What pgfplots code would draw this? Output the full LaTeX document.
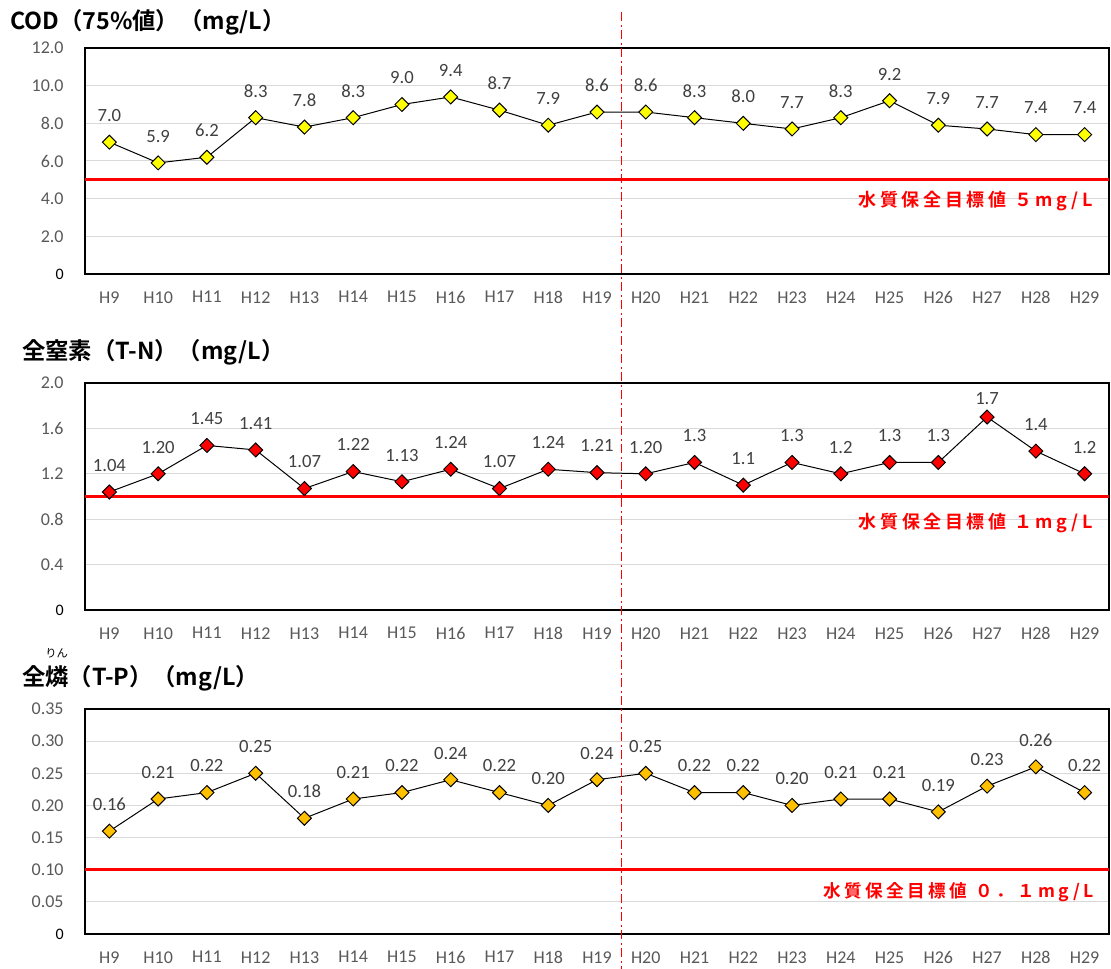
\documentclass[border=0pt]{standalone}
\usepackage{pgfplots}
\pgfplotsset{compat=1.18}
\usepackage{pgfplotstable}
\usetikzlibrary{calc}
\usepackage{fontspec}
\setmainfont{Carlito}
\newfontfamily\cjk{Noto Sans CJK JP}[BoldFont={Noto Sans CJK JP Bold}]
\newfontfamily\cjkred{Noto Sans CJK JP Bold}[LetterSpace=20]
\definecolor{tickgray}{HTML}{595959}
\definecolor{labgray}{HTML}{404040}
\definecolor{gridgray}{HTML}{D9D9D9}
\definecolor{ptyellow}{HTML}{FFFF00}
\definecolor{ptred}{HTML}{FF0000}
\definecolor{ptgold}{HTML}{FFC000}

\pgfplotstableread{
x y lab dy
0 7.0 7.0 0
1 5.9 5.9 0
2 6.2 6.2 0
3 8.3 8.3 0
4 7.8 7.8 0
5 8.3 8.3 0
6 9.0 9.0 0
7 9.4 9.4 0
8 8.7 8.7 0
9 7.9 7.9 0
10 8.6 8.6 0
11 8.6 8.6 0
12 8.3 8.3 0
13 8.0 8.0 0
14 7.7 7.7 0
15 8.3 8.3 0
16 9.2 9.2 0
17 7.9 7.9 0
18 7.7 7.7 0
19 7.4 7.4 0
20 7.4 7.4 0
}\codtab

\pgfplotstableread{
x y lab dy
0 1.04 1.04 0
1 1.20 1.20 0
2 1.45 1.45 0
3 1.41 1.41 0
4 1.07 1.07 0
5 1.22 1.22 0
6 1.13 1.13 0
7 1.24 1.24 0
8 1.07 1.07 0
9 1.24 1.24 0
10 1.21 1.21 0
11 1.20 1.20 0
12 1.3 1.3 0
13 1.1 1.1 0
14 1.3 1.3 0
15 1.2 1.2 0
16 1.3 1.3 0
17 1.3 1.3 0
18 1.7 1.7 -6
19 1.4 1.4 0
20 1.2 1.2 0
}\tntab

\pgfplotstableread{
x y lab dy
0 0.16 0.16 0
1 0.21 0.21 0
2 0.22 0.22 0
3 0.25 0.25 0
4 0.18 0.18 0
5 0.21 0.21 0
6 0.22 0.22 0
7 0.24 0.24 0
8 0.22 0.22 0
9 0.20 0.20 0
10 0.24 0.24 0
11 0.25 0.25 0
12 0.22 0.22 0
13 0.22 0.22 0
14 0.20 0.20 0
15 0.21 0.21 0
16 0.21 0.21 0
17 0.19 0.19 0
18 0.23 0.23 0
19 0.26 0.26 0
20 0.22 0.22 0
}\tptab

\pgfplotsset{
  panel/.style={
    scale only axis,
    width=768pt,
    xmin=-0.5, xmax=20.5,
    xtick={0,...,20},
    xticklabels={H9,H10,H11,H12,H13,H14,H15,H16,H17,H18,H19,H20,H21,H22,H23,H24,H25,H26,H27,H28,H29},
    major tick length=0pt,
    ymajorgrids,
    grid style={gridgray, line width=0.75pt},
    axis line style={black, line width=1.1pt},
    tick label style={font=\fontsize{13.5}{15}\selectfont, text=tickgray},
    xticklabel style={yshift=-9.5pt},
    yticklabel style={xshift=-12.5pt},
    clip=false,
  },
  series/.style={
    black, line width=0.75pt,
    mark=square*, mark size=3.7pt,
    mark options={rotate=45, fill=#1, draw=black, line width=0.75pt},
    point meta=explicit symbolic,
    visualization depends on={\thisrow{dy} \as \dy},
    nodes near coords,
    every node near coord/.append style={anchor=center, yshift=20pt+\dy pt, font=\fontsize{14}{16}\selectfont, text=labgray},
  },
}

\begin{document}
\begin{tikzpicture}
\useasboundingbox (0,0) rectangle (833.25pt,-726.75pt);

% Panel 1
\begin{axis}[panel, at={(63.75pt,-205.5pt)}, anchor=south west, height=169.5pt,
  ymin=0, ymax=12, ytick={0,2,...,12},
  yticklabels={{\textcolor{black}{\fontsize{12}{14}\selectfont 0}},2.0,4.0,6.0,8.0,10.0,12.0}]
\addplot[red, line width=2.25pt, forget plot] coordinates {(-0.5,5) (20.5,5)};
\addplot[series=ptyellow] table[x=x, y=y, meta=lab] {\codtab};
\node[anchor=east, text=red, font=\cjkred\fontsize{13.5}{15}\selectfont, inner sep=0pt] at (axis cs:20.17,3.88) {水質保全目標値 ５mg/L};
\coordinate (vx) at (axis cs:10.5,0);
\end{axis}

% Panel 2
\begin{axis}[panel, at={(63.75pt,-457.5pt)}, anchor=south west, height=170.25pt,
  ymin=0, ymax=2, ytick={0,0.4,...,2.0},
  yticklabels={{\textcolor{black}{\fontsize{12}{14}\selectfont 0}},0.4,0.8,1.2,1.6,2.0}]
\addplot[red, line width=2.25pt, forget plot] coordinates {(-0.5,1) (20.5,1)};
\addplot[series=ptred] table[x=x, y=y, meta=lab] {\tntab};
\node[anchor=east, text=red, font=\cjkred\fontsize{13.5}{15}\selectfont, inner sep=0pt] at (axis cs:20.17,0.767) {水質保全目標値 １mg/L};
\end{axis}

% Panel 3
\begin{axis}[panel, at={(63.75pt,-700.5pt)}, anchor=south west, height=168.75pt,
  ymin=0, ymax=0.35, ytick={0,0.05,0.10,0.15,0.20,0.25,0.30,0.35},
  yticklabels={{\textcolor{black}{\fontsize{12}{14}\selectfont 0}},0.05,0.10,0.15,0.20,0.25,0.30,0.35}]
\addplot[red, line width=2.25pt, forget plot] coordinates {(-0.5,0.1) (20.5,0.1)};
\addplot[series=ptgold] table[x=x, y=y, meta=lab] {\tptab};
\node[anchor=east, text=red, font=\cjkred\fontsize{13.2}{15}\selectfont, inner sep=0pt] at (axis cs:20.20,0.0653) {水質保全目標値 ０．１mg/L};
\end{axis}

% Titles
\node[anchor=west, inner sep=0pt, font=\cjk\bfseries\fontsize{17.5}{19}\selectfont] at (7.5pt,-16.5pt) {COD（75\%値）（mg/L）};
\node[anchor=west, inner sep=0pt, font=\cjk\bfseries\fontsize{17.5}{19}\selectfont] at (16.5pt,-264pt) {全窒素（T-N）（mg/L）};
\node[anchor=west, inner sep=0pt, font=\cjk\bfseries\fontsize{17.5}{19}\selectfont] at (16.5pt,-508.5pt) {全燐（T-P）（mg/L）};
\node[inner sep=0pt, font=\cjk\fontsize{8.5}{10}\selectfont] at (42.5pt,-490pt) {りん};

% Vertical dash-dot divider, drawn as individual red pieces
\coordinate (vtop) at (0,-9pt);
\begin{scope}[red, line width=1.3pt]
\foreach \k in {0,...,53} {
  \draw[red] ($(vx |- vtop)+(0,-13.5*\k pt)$) -- ++(0,-7pt);
  \draw[red] ($(vx |- vtop)+(0,-13.5*\k pt-9.5pt)$) -- ++(0,-1.5pt);
}
\end{scope}
\end{tikzpicture}
\end{document}
